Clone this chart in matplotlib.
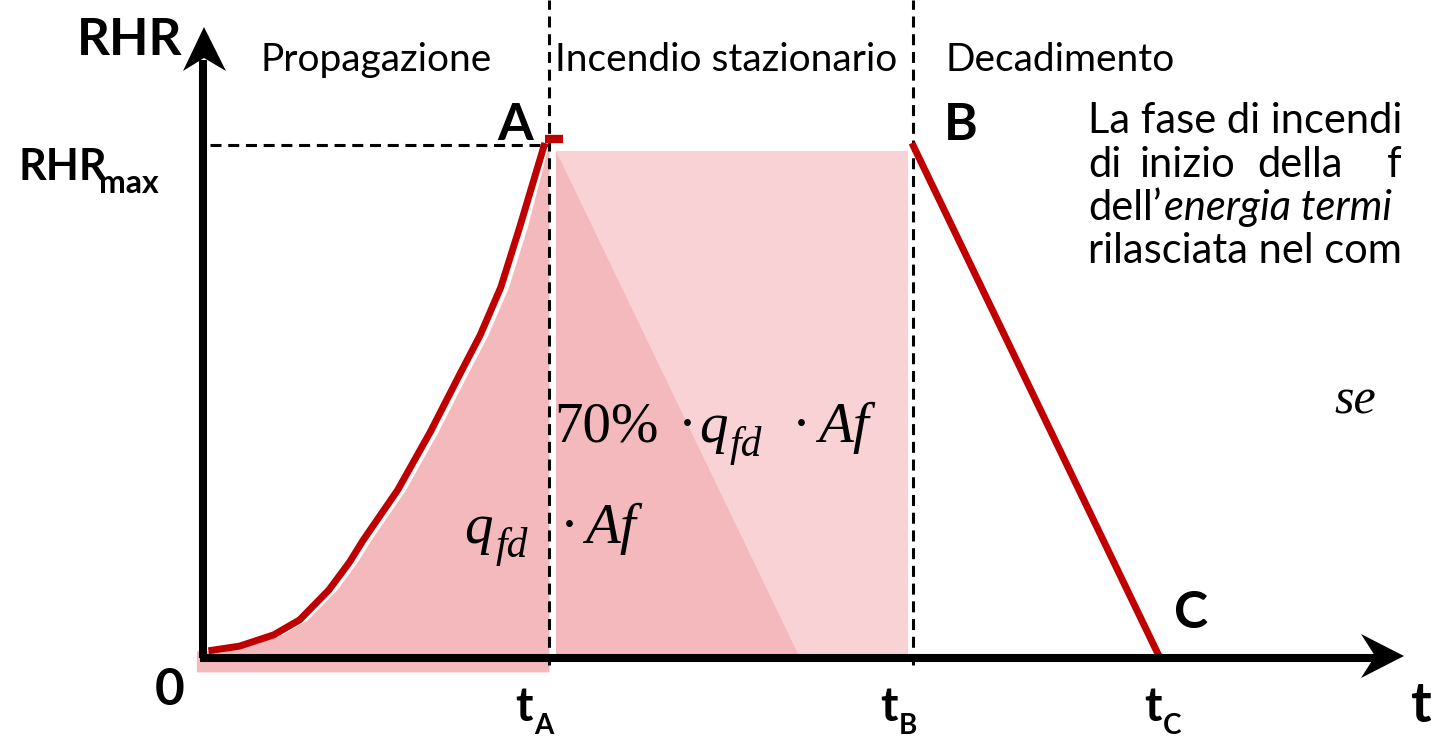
import matplotlib
matplotlib.use("Agg")
import matplotlib.pyplot as plt
from matplotlib.patches import Polygon

# ============================================================================
# DATA: RHR curve (time in arbitrary units, RHR normalised to RHR_max = 1)
# ============================================================================
t_rise = [0.1, 1.0, 2.0, 2.75, 3.6, 4.2, 4.6, 5.6, 6.55, 7.4, 8.0, 8.6, 9.15, 9.88]
rhr_rise = [0.014, 0.023, 0.045, 0.074, 0.132, 0.186, 0.229, 0.326, 0.439,
            0.55, 0.627, 0.72, 0.837, 1.0]

t_A, t_B, t_C = 10.0, 20.5, 27.76
RHR_MAX = 1.0

t_decay = [20.55, 27.76]
rhr_decay = [1.0, 0.0]

t_70 = 17.3          # end of the 70% triangle on the time axis

phase_labels = ["Propagazione", "Incendio stazionario", "Decadimento"]
time_labels = ["A", "B", "C"]

# paragraph on the right, cut by the picture border as in the original slide
para_line1 = "La fase di incendi"
para_line2 = [("di", 1088), ("inizio", 1140), ("della", 1257), ("f", 1387)]
para_line3 = ("dell\u2019", "energia termi")
para_line4 = "rilasciata nel com"
para_base = [133, 177, 220, 263]

# ============================================================================
# LAYOUT (pixel reference frame of the picture)
# ============================================================================
W, H = 1431, 739
X0, Y0 = 205, 658      # origin in pixels
SX, SY = 34.4, 515     # pixels per data unit

RED = "#c00000"
PINK_LIGHT = "#f8d2d5"
PINK_DARK = "#f3b9bd"
SANS = ["Lato", "DejaVu Sans"]
SERIF = ["Liberation Serif", "DejaVu Serif"]


def P(x, y):
    """pixel position -> data coordinates"""
    return (x - X0) / SX, (Y0 - y) / SY


fig = plt.figure(figsize=(W / 100, H / 100), dpi=100)
ax = fig.add_axes([0, 0, 1, 1])
ax.set_xlim(-X0 / SX, (W - X0) / SX)
ax.set_ylim((Y0 - H) / SY, Y0 / SY)
ax.axis("off")

# ---- shaded areas ----------------------------------------------------------
# fill under the rise, slightly offset to the right (white seam as in original)
xs = [-0.25] + [min(t + 0.22, t_A) for t in t_rise] + [t_A]
ys = [rhr_rise[0]] + rhr_rise + [rhr_rise[-1]]
ax.fill_between(xs, ys, -0.027, color=PINK_DARK, lw=0, zorder=1)

rect_l, rect_r, rect_top = t_A + 0.2, t_B - 0.05, 0.985 * RHR_MAX
ax.fill_between([rect_l, rect_r], 0, rect_top, color=PINK_LIGHT, lw=0, zorder=1)
ax.add_patch(Polygon([(rect_l, rect_top), (rect_l, 0), (t_70, 0)],
                     closed=True, color=PINK_DARK, lw=0, zorder=1.1))

# ---- dashed guides ---------------------------------------------------------
dash = dict(color="black", lw=2.2, ls=(0, (3.6, 2.2)), zorder=2)
ax.plot([0.15, t_A], [RHR_MAX * 0.996] * 2, **dash)
top = Y0 / SY
ax.plot([t_A, t_A], [-0.014, top], **dash)
ax.plot([t_B + 0.07, t_B + 0.07], [-0.014, top], **dash)

# ---- RHR curve -------------------------------------------------------------
ax.plot(t_rise, rhr_rise, color=RED, lw=5, solid_capstyle="butt",
        solid_joinstyle="round", zorder=3)
ax.plot([t_rise[-1], t_A + 0.4], [1.008, 1.008], color=RED, lw=6,
        solid_capstyle="butt", zorder=3)
ax.plot(t_decay, rhr_decay, color=RED, lw=5, solid_capstyle="butt", zorder=3)

# ---- axes with arrows ------------------------------------------------------
ax.plot([-0.05, -0.05], [0, (Y0 - 60) / SY], color="black", lw=5.8,
        solid_capstyle="butt", zorder=4)
ax.plot([-0.15, (1378 - X0) / SX], [0, 0], color="black", lw=5.8,
        solid_capstyle="butt", zorder=4)
ax.add_patch(Polygon([P(204, 27), P(183, 71), P(204, 58), P(226, 71)],
                     closed=True, color="black", lw=0, zorder=4))
ax.add_patch(Polygon([P(1404, 656), P(1361, 634), P(1375, 656), P(1361, 678)],
                     closed=True, color="black", lw=0, zorder=4))

# ---- labels ----------------------------------------------------------------
bold = dict(family=SANS, fontweight="bold", ha="left", va="baseline", zorder=5)
ax.text(*P(77, 55), "RHR", fontsize=37, **bold)
ax.text(*P(18, 180), "RHR", fontsize=31, **bold)
ax.text(*P(99, 193), "max", fontsize=23, **bold)
ax.text(*P(155, 705), "0", fontsize=37, **bold)
ax.text(*P(1411, 722), "t", fontsize=40, **bold)

for lab, (x, y) in zip(time_labels, [(497, 140), (944, 140), (1174, 628)]):
    ax.text(*P(x, y), lab, fontsize=37, **bold)

for sub, x in zip(time_labels, [515, 880, 1144]):
    ax.text(*P(x, 721), "t", fontsize=34, **bold)
    ax.text(*P(x + 19, 734), sub, fontsize=20, **bold)

reg = dict(family=SANS, ha="left", va="baseline", zorder=5, color="black")
for lab, x in zip(phase_labels, [261, 555, 946]):
    ax.text(*P(x, 71), lab, fontsize=28, **reg)

PARA_FS = 30
ax.text(*P(1088, para_base[0]), para_line1, fontsize=PARA_FS, **reg)
for word, x in para_line2:
    ax.text(*P(x, para_base[1]), word, fontsize=PARA_FS, **reg)
t3 = ax.text(*P(1088, para_base[2]), para_line3[0], fontsize=PARA_FS, **reg)
renderer = fig.canvas.get_renderer()
x_end = t3.get_window_extent(renderer).x1
ax.text(*P(x_end + 2, para_base[2]), para_line3[1], fontsize=PARA_FS,
        style="italic", **reg)
ax.text(*P(1088, para_base[3]), para_line4, fontsize=PARA_FS, **reg)

# formulas
ser = dict(family=SERIF, ha="left", va="baseline", zorder=5)
ax.text(*P(554, 442), "70%", fontsize=41, **ser)
ax.text(*P(678, 442), "\u00b7", fontsize=41, **ser)
ax.text(*P(699, 442), "q", fontsize=41, style="italic", **ser)
ax.text(*P(730, 456), "fd", fontsize=30, style="italic", **ser)
ax.text(*P(792, 442), "\u00b7", fontsize=41, **ser)
ax.text(*P(818, 442), "Af", fontsize=41, style="italic", **ser)

ax.text(*P(464, 543), "q", fontsize=41, style="italic", **ser)
ax.text(*P(496, 557), "fd", fontsize=30, style="italic", **ser)
ax.text(*P(560, 543), "\u00b7", fontsize=41, **ser)
ax.text(*P(585, 543), "Af", fontsize=41, style="italic", **ser)

ax.text(*P(1334, 413), "se", fontsize=36, style="italic", **ser)

fig.savefig("out.png", dpi=100)
